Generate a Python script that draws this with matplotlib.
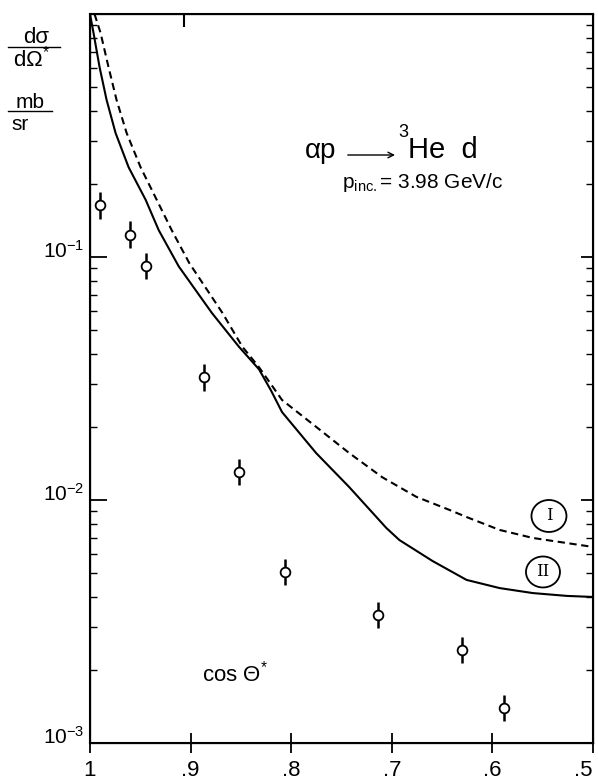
import numpy as np
import matplotlib
matplotlib.use("Agg")
import matplotlib.pyplot as plt
from matplotlib.patches import Ellipse
from matplotlib.lines import Line2D
import matplotlib.transforms as mtransforms

plt.rcParams['font.family'] = ['Liberation Sans', 'DejaVu Sans']
plt.rcParams['mathtext.fontset'] = 'custom'
plt.rcParams['mathtext.rm'] = 'Liberation Sans'
plt.rcParams['mathtext.it'] = 'Liberation Sans:italic'
plt.rcParams['mathtext.sf'] = 'Liberation Sans'

# measured points  (cos theta*, d sigma / d omega* in mb/sr)
cos_data = [0.990, 0.960, 0.944, 0.887, 0.852, 0.806, 0.714, 0.630, 0.588]
sig_data = [0.164, 0.123, 0.0919, 0.0321, 0.0130, 0.00506, 0.00336, 0.00242, 0.00139]
sig_lo = [0.144, 0.109, 0.0809, 0.0282, 0.0115, 0.00446, 0.00296, 0.00213, 0.00123]
sig_hi = [0.186, 0.140, 0.104, 0.0364, 0.0148, 0.00574, 0.00382, 0.00274, 0.00158]

# curve II (solid)
cos_II = [1.000, 0.9965, 0.9905, 0.9835, 0.9746, 0.9616, 0.9447, 0.9317, 0.9118,
          0.8789, 0.8519, 0.8320, 0.8200, 0.8091, 0.7752, 0.7423, 0.7054, 0.6924, 0.6595,
          0.6257, 0.5928, 0.5599, 0.5260, 0.500]
sig_II = [1.0, 0.836, 0.605, 0.443, 0.324, 0.234, 0.172, 0.129, 0.0915,
          0.0589, 0.0427, 0.0345, 0.0282, 0.0230, 0.0156, 0.0113, 0.00767, 0.00684, 0.00561,
          0.00469, 0.00434, 0.00414, 0.00403, 0.00399]

# curve I (dashed)
cos_I = [0.9955, 0.9895, 0.9816, 0.9736, 0.9636, 0.9497, 0.9337, 0.9188, 0.9013,
         0.8684, 0.8485, 0.8320, 0.8091, 0.7752, 0.7423, 0.7094, 0.6755, 0.6426,
         0.6257, 0.5928, 0.5599, 0.5260, 0.500]
sig_I = [1.0, 0.836, 0.605, 0.443, 0.324, 0.234, 0.172, 0.129, 0.0944,
         0.0589, 0.0427, 0.0352, 0.0258, 0.0200, 0.0156, 0.0124, 0.0103, 0.00910,
         0.00851, 0.00753, 0.00698, 0.00665, 0.00641]

x_ticks = [1.0, 0.9, 0.8, 0.7, 0.6, 0.5]
x_labels = ['1', '.9', '.8', '.7', '.6', '.5']
y_ticks = [1e-3, 1e-2, 1e-1]
y_labels = [r'$\mathregular{10^{-3}}$', r'$\mathregular{10^{-2}}$', r'$\mathregular{10^{-1}}$']

fig = plt.figure(figsize=(5.98, 7.83), dpi=100)
ax = fig.add_axes([0.1505, 0.0511, 0.8411, 0.9310])

ax.set_yscale('log')
ax.set_xlim(1.0, 0.5)
ax.set_ylim(1e-3, 1.0)

ax.plot(cos_II, sig_II, color='black', lw=1.5, solid_joinstyle='round')
ax.plot(cos_I, sig_I, color='black', lw=1.5, linestyle=(0, (3.5, 2.2)))

yerr = [np.array(sig_data) - np.array(sig_lo), np.array(sig_hi) - np.array(sig_data)]
ax.errorbar(cos_data, sig_data, yerr=yerr, fmt='o', ms=7, mfc='white', mec='black',
            mew=1.3, ecolor='black', elinewidth=1.8, capsize=0, zorder=3)

for s in ax.spines.values():
    s.set_linewidth(1.5)

ax.set_xticks(x_ticks)
ax.set_xticklabels(x_labels, fontsize=16)
ax.xaxis.set_minor_locator(plt.NullLocator())
ax.tick_params(axis='x', direction='inout', length=14, width=1.3, pad=5)
# keep ".5" inside the picture
xl = ax.get_xticklabels()
xl[-1].set_transform(xl[-1].get_transform() +
                     mtransforms.ScaledTranslation(-7 / 72, 0, fig.dpi_scale_trans))

ax.set_yticks(y_ticks)
ax.set_yticklabels(y_labels, fontsize=15)
ax.yaxis.set_minor_locator(matplotlib.ticker.LogLocator(base=10, subs=np.arange(2, 10)))
ax.yaxis.set_minor_formatter(matplotlib.ticker.NullFormatter())
ax.tick_params(axis='y', which='major', direction='in', length=12, width=1.3, pad=4)
ax.tick_params(axis='y', which='minor', direction='in', length=5, width=1.0)
off = mtransforms.ScaledTranslation(0, 6 / 72, fig.dpi_scale_trans)
for lbl in ax.get_yticklabels():
    lbl.set_transform(lbl.get_transform() + off)

# right axis ticks
ax2 = ax.twinx()
ax2.set_yscale('log')
ax2.set_ylim(ax.get_ylim())
ax2.set_yticks(y_ticks)
ax2.yaxis.set_minor_locator(matplotlib.ticker.LogLocator(base=10, subs=np.arange(2, 10)))
ax2.yaxis.set_minor_formatter(matplotlib.ticker.NullFormatter())
ax2.set_yticklabels([])
ax2.tick_params(axis='y', which='major', direction='in', length=9, width=1.3)
ax2.tick_params(axis='y', which='minor', direction='in', length=5, width=1.0)

# top axis: single tick near .9
ax3 = ax.twiny()
ax3.set_xlim(ax.get_xlim())
ax3.set_xticks([0.907])
ax3.set_xticklabels([])
ax3.tick_params(axis='x', direction='in', length=9, width=1.5)

# annotations
ax.text(0.4274, 0.8025, 'αp', transform=ax.transAxes, fontsize=20)
ax.annotate('', xy=(0.612, 0.8066), xytext=(0.507, 0.8066), xycoords='axes fraction',
            arrowprops=dict(arrowstyle='->', lw=1.0, color='black', mutation_scale=10))
ax.text(0.6123, 0.831, '3', transform=ax.transAxes, fontsize=13)
ax.text(0.632, 0.8025, 'He  d', transform=ax.transAxes, fontsize=21)
ax.text(0.501, 0.761, r'p$_{\mathregular{inc.}}$= 3.98 GeV/c', transform=ax.transAxes,
        fontsize=15)
ax.text(0.2227, 0.0837, r'cos $\Theta^{*}$', transform=ax.transAxes, fontsize=16)

for cx, cy, w, h, lab in [(0.9125, 0.3114, 0.0696, 0.0439, 'I'),
                          (0.9006, 0.2346, 0.0676, 0.0425, 'II')]:
    ax.add_patch(Ellipse((cx, cy), w, h, transform=ax.transAxes, fill=False,
                         lw=1.3, ec='black'))
    ax.text(cx, cy, lab, transform=ax.transAxes, ha='center', va='center',
            fontsize=12, family='DejaVu Serif')

# y label
fig.text(36 / 598, 1 - 43 / 783, 'dσ', fontsize=16, ha='center', va='baseline')
fig.add_artist(Line2D([8 / 598, 60 / 598], [1 - 47 / 783, 1 - 47 / 783], color='black', lw=1.0))
fig.text(32 / 598, 1 - 67 / 783, r'dΩ$^{*}$', fontsize=16, ha='center', va='baseline')
fig.text(30 / 598, 1 - 108 / 783, 'mb', fontsize=15, ha='center', va='baseline')
fig.add_artist(Line2D([8 / 598, 52 / 598], [1 - 111 / 783, 1 - 111 / 783], color='black', lw=1.0))
fig.text(20 / 598, 1 - 130 / 783, 'sr', fontsize=15, ha='center', va='baseline')

fig.savefig('out.png', dpi=100)
